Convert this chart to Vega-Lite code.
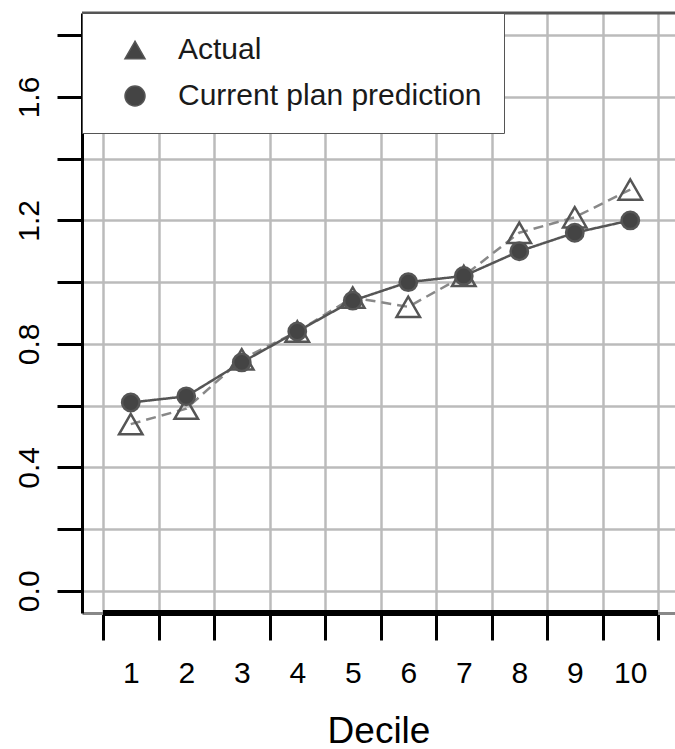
{
  "$schema": "https://vega.github.io/schema/vega-lite/v6.json",
  "width": 593,
  "height": 600,
  "autosize": "none",
  "padding": {"left": 82, "top": 13, "right": 0, "bottom": 136},
  "background": "white",
  "config": {"view": {"stroke": null}, "font": "Liberation Sans"},
  "data": {"values": [
    {"decile": 1, "series": "Actual", "value": 0.54},
    {"decile": 2, "series": "Actual", "value": 0.59},
    {"decile": 3, "series": "Actual", "value": 0.75},
    {"decile": 4, "series": "Actual", "value": 0.84},
    {"decile": 5, "series": "Actual", "value": 0.95},
    {"decile": 6, "series": "Actual", "value": 0.92},
    {"decile": 7, "series": "Actual", "value": 1.02},
    {"decile": 8, "series": "Actual", "value": 1.16},
    {"decile": 9, "series": "Actual", "value": 1.21},
    {"decile": 10, "series": "Actual", "value": 1.30},
    {"decile": 1, "series": "Current plan prediction", "value": 0.61},
    {"decile": 2, "series": "Current plan prediction", "value": 0.63},
    {"decile": 3, "series": "Current plan prediction", "value": 0.74},
    {"decile": 4, "series": "Current plan prediction", "value": 0.84},
    {"decile": 5, "series": "Current plan prediction", "value": 0.94},
    {"decile": 6, "series": "Current plan prediction", "value": 1.00},
    {"decile": 7, "series": "Current plan prediction", "value": 1.02},
    {"decile": 8, "series": "Current plan prediction", "value": 1.10},
    {"decile": 9, "series": "Current plan prediction", "value": 1.16},
    {"decile": 10, "series": "Current plan prediction", "value": 1.20}
  ]},
  "layer": [
    {
      "mark": {"type": "line", "strokeWidth": 2.5},
      "encoding": {
        "x": {
          "field": "decile", "type": "quantitative",
          "scale": {"domain": [0.1216, 10.806], "nice": false, "zero": false},
          "axis": {
            "values": [0.5, 1.5, 2.5, 3.5, 4.5, 5.5, 6.5, 7.5, 8.5, 9.5, 10.5],
            "labelExpr": "datum.value < 10 ? '' + (datum.value + 0.5) : ''",
            "labelOffset": 27.75,
            "tickSize": 27, "tickWidth": 3, "tickColor": "black",
            "grid": true, "gridColor": "#bbbbbb", "gridWidth": 2.5,
            "domain": true, "domainColor": "#888888", "domainWidth": 3,
            "labelFontSize": 30, "labelPadding": 18, "labelColor": "black", "labelFont": "Liberation Sans",
            "labelFlush": false, "labelOverlap": false, "labelAlign": "center",
            "title": "Decile", "titleFontSize": 37, "titleFontWeight": "normal", "titlePadding": 25,
            "titleColor": "black", "titleFont": "Liberation Sans"
          }
        },
        "y": {
          "field": "value", "type": "quantitative",
          "scale": {"domain": [-0.072, 1.872], "nice": false, "zero": false},
          "axis": {
            "values": [0, 0.2, 0.4, 0.6, 0.8, 1, 1.2, 1.4, 1.6, 1.8],
            "labelExpr": "round(datum.value * 10) % 4 == 0 ? format(datum.value, '.1f') : ''",
            "labelAngle": 270, "labelAlign": "center", "labelBaseline": "alphabetic",
            "tickSize": 25, "tickWidth": 3, "tickColor": "black",
            "grid": true, "gridColor": "#bbbbbb", "gridWidth": 2.5,
            "domain": true, "domainColor": "black", "domainWidth": 3,
            "labelFontSize": 30, "labelPadding": 19, "labelColor": "black", "labelFont": "Liberation Sans",
            "labelOverlap": false, "labelFlush": false,
            "title": null
          }
        },
        "detail": {"field": "series", "type": "nominal"},
        "strokeDash": {"condition": {"test": "datum.series == 'Actual'", "value": [10, 6]}, "value": [1, 0]},
        "stroke": {"condition": {"test": "datum.series == 'Actual'", "value": "#888888"}, "value": "#555555"}
      }
    },
    {
      "mark": {"type": "point", "filled": true, "strokeWidth": 2.5, "stroke": "#555555", "opacity": 1},
      "encoding": {
        "x": {"field": "decile", "type": "quantitative"},
        "y": {"field": "value", "type": "quantitative"},
        "shape": {
          "field": "series", "type": "nominal",
          "scale": {"domain": ["Actual", "Current plan prediction"], "range": ["triangle-up", "circle"]},
          "legend": {
            "title": null, "orient": "top-left", "offset": 0, "padding": 22,
            "fillColor": "white", "strokeColor": "#555555",
            "labelFontSize": 30, "labelColor": "#1a1a1a", "labelLimit": 700,
            "symbolSize": 400, "symbolOffset": 16, "labelOffset": 28, "rowPadding": 16,
            "labelExpr": "datum.label + '          '",
            "encode": {
              "symbols": {
                "shape": {"value": {"expr": "datum.value == 'Actual' ? 'M-3.2,0H3.2M0,-1.15L1,0.6L-1,0.6Z' : 'M-3.2,0H3.2M0.7,0A0.7,0.7 0 1,1 -0.7,0A0.7,0.7 0 1,1 0.7,0Z'"}},
                "fill": {"value": {"expr": "datum.value == 'Actual' ? 'white' : '#222222'"}},
                "stroke": {"value": "#222222"},
                "strokeWidth": {"value": 3},
                "opacity": {"value": 1}
              }
            }
          }
        },
        "fill": {"condition": {"test": "datum.series == 'Actual'", "value": "transparent"}, "value": "#444444"},
        "size": {"condition": {"test": "datum.series == 'Actual'", "value": 550}, "value": 300}
      }
    },
    {
      "transform": [{"filter": "datum.decile == 1 && datum.series == 'Actual'"}],
      "mark": {"type": "rule", "color": "black", "strokeWidth": 6},
      "encoding": {
        "x": {"datum": 0.5, "type": "quantitative"},
        "x2": {"datum": 10.5},
        "y": {"datum": -0.072, "type": "quantitative"}
      }
    },
    {
      "transform": [{"filter": "datum.decile == 1 && datum.series == 'Actual'"}],
      "mark": {"type": "rule", "color": "#555555", "strokeWidth": 3},
      "encoding": {
        "x": {"datum": 0.1216, "type": "quantitative"},
        "x2": {"datum": 10.806},
        "y": {"datum": 1.872, "type": "quantitative"}
      }
    }
  ]
}
